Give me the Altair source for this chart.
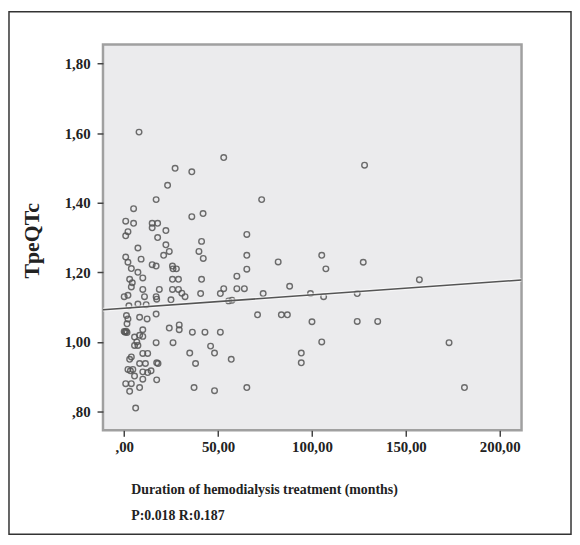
import altair as alt
import pandas as pd

# Duration of hemodialysis treatment (months)
months = [
    7.9, 5.0, 0.8, 5.0, 14.9, 17.8, 14.9, 2.0, 0.8, 22.2,
    17.8, 17.0, 23.1, 27.1, 22.2, 24.0, 21.0, 7.3, 9.0, 0.8,
    2.0, 3.8, 7.3, 9.9, 2.9, 4.3, 3.8, 14.9, 17.0, 25.7,
    27.8, 26.0, 25.7, 28.9, 9.9, 18.7, 25.7, 28.9, 30.7, 32.4,
    0.0, 2.0, 10.8, 17.0, 17.3, 24.9, 2.5, 7.3, 11.7, 1.2,
    2.0, 8.2, 12.2, 17.0, 0.0, 0.5, 1.0, 1.5, 9.9, 24.0,
    29.3, 29.3, 36.3, 43.0, 51.2, 5.5, 8.2, 9.9, 5.5, 7.3,
    6.7, 17.0, 26.0, 9.9, 12.5, 34.9, 38.0, 3.8, 2.9, 8.2,
    11.3, 17.3, 18.0, 2.0, 3.3, 4.6, 9.9, 12.5, 14.3, 5.5,
    9.9, 17.3, 0.8, 3.8, 8.2, 2.9, 37.2, 6.1, 36.0, 36.0,
    42.0, 53.0, 73.2, 65.3, 41.2, 42.1, 39.8, 65.3, 82.0, 105.2,
    107.4, 65.3, 60.0, 41.2, 53.0, 60.0, 64.0, 88.1, 40.7, 51.2,
    74.0, 99.2, 106.2, 55.6, 57.4, 71.0, 83.7, 86.9, 100.0, 105.2,
    46.0, 48.1, 57.0, 94.3, 94.3, 48.1, 65.3, 127.3, 157.2, 124.1,
    124.1, 135.0, 173.0, 181.2, 128.0, 1.5,
]
# TpeQTc
tpeqtc = [
    1.603, 1.383, 1.347, 1.341, 1.341, 1.341, 1.328, 1.317, 1.305, 1.320,
    1.300, 1.409, 1.450, 1.499, 1.279, 1.260, 1.249, 1.270, 1.238, 1.244,
    1.229, 1.211, 1.200, 1.184, 1.180, 1.170, 1.158, 1.222, 1.218, 1.218,
    1.210, 1.210, 1.180, 1.180, 1.151, 1.151, 1.151, 1.151, 1.140, 1.130,
    1.130, 1.134, 1.130, 1.130, 1.123, 1.121, 1.104, 1.109, 1.107, 1.076,
    1.066, 1.071, 1.066, 1.080, 1.030, 1.028, 1.031, 1.027, 1.035, 1.040,
    1.049, 1.035, 1.028, 1.028, 1.028, 1.014, 1.019, 1.016, 0.990, 0.990,
    1.000, 0.998, 0.998, 0.967, 0.967, 0.968, 0.938, 0.957, 0.950, 0.938,
    0.938, 0.940, 0.938, 0.921, 0.917, 0.921, 0.914, 0.912, 0.917, 0.902,
    0.893, 0.891, 0.880, 0.880, 0.869, 0.858, 0.869, 0.810, 1.489, 1.360,
    1.369, 1.530, 1.409, 1.309, 1.289, 1.240, 1.260, 1.249, 1.230, 1.249,
    1.210, 1.209, 1.189, 1.180, 1.153, 1.153, 1.153, 1.160, 1.139, 1.139,
    1.139, 1.139, 1.130, 1.118, 1.120, 1.078, 1.078, 1.078, 1.058, 1.000,
    0.988, 0.968, 0.950, 0.968, 0.940, 0.860, 0.869, 1.229, 1.179, 1.139,
    1.059, 1.059, 0.998, 0.869, 1.508, 1.052,
]

# fitted line, end points
fit_months = [-11.3, 211.6]
fit_tpeqtc = [1.0926, 1.178]

x_ticks = [0, 50, 100, 150, 200]
x_tick_labels = [",00", "50,00", "100,00", "150,00", "200,00"]
y_ticks = [0.8, 1.0, 1.2, 1.4, 1.6, 1.8]
y_tick_labels = [",80", "1,00", "1,20", "1,40", "1,60", "1,80"]

x_domain = [-11.3, 211.6]
y_domain = [0.746, 1.855]

x_title = ["Duration of hemodialysis treatment (months)", "P:0.018 R:0.187"]
y_title = "TpeQTc"


def label_expr(values, labels):
    expr = "''"
    for v, lab in reversed(list(zip(values, labels))):
        expr = f"abs(datum.value - {v}) < 1e-6 ? '{lab}' : ({expr})"
    return expr


df = pd.DataFrame({"months": months, "tpeqtc": tpeqtc})
fit_df = pd.DataFrame({"months": fit_months, "tpeqtc": fit_tpeqtc})
frame_df = pd.DataFrame({"k": [0]})

FONT = "Liberation Serif"

x_scale = alt.Scale(domain=x_domain, nice=False, zero=False)
y_scale = alt.Scale(domain=y_domain, nice=False, zero=False)

x_axis = alt.Axis(
    values=x_ticks,
    labelExpr=label_expr(x_ticks, x_tick_labels),
    grid=False,
    domain=False,
    ticks=True,
    tickSize=6,
    tickWidth=1.5,
    tickColor="#444444",
    labelFont=FONT,
    labelFontWeight="bold",
    labelFontSize=15,
    labelColor="#222222",
    labelPadding=3,
    labelFlush=False,
    title=x_title,
    titleFont=FONT,
    titleFontWeight="bold",
    titleFontSize=14,
    titleColor="#222222",
    titleAlign="left",
    titleBaseline="alphabetic",
    titleLineHeight=26,
    titleX=28,
    titleY=64,
)

y_axis = alt.Axis(
    values=y_ticks,
    labelExpr=label_expr(y_ticks, y_tick_labels),
    grid=False,
    domain=False,
    ticks=True,
    tickSize=6,
    tickWidth=1.5,
    tickColor="#444444",
    labelFont=FONT,
    labelFontWeight="bold",
    labelFontSize=15,
    labelColor="#222222",
    labelPadding=7,
    labelFlush=False,
    title=y_title,
    titleFont=FONT,
    titleFontWeight="bold",
    titleFontSize=22,
    titleColor="#222222",
    titleAlign="center",
    titleBaseline="middle",
    titleAngle=270,
    titleX=-72,
    titleY=198,
)

points = alt.Chart(df).mark_point(
    shape="circle", filled=False, size=32, strokeWidth=1.4,
    color="#555555", opacity=0.85,
).encode(
    x=alt.X("months:Q", scale=x_scale, axis=x_axis),
    y=alt.Y("tpeqtc:Q", scale=y_scale, axis=y_axis),
)

halo = alt.Chart(fit_df).mark_line(
    color="#ffffff", strokeWidth=4, opacity=0.55, clip=True
).encode(
    x=alt.X("months:Q", scale=x_scale),
    y=alt.Y("tpeqtc:Q", scale=y_scale),
)

fit_line = alt.Chart(fit_df).mark_line(
    color="#555555", strokeWidth=1.6, clip=True
).encode(
    x=alt.X("months:Q", scale=x_scale),
    y=alt.Y("tpeqtc:Q", scale=y_scale),
)

frame = alt.Chart(frame_df).mark_rect(
    fillOpacity=0, stroke="#333333", strokeWidth=1.5
).encode(
    x=alt.value(-95),
    x2=alt.value(473),
    y=alt.value(-33),
    y2=alt.value(495),
)

chart = alt.layer(frame, points, halo, fit_line).properties(
    width=423,
    height=390,
    padding=0,
    background="#ffffff",
).configure_view(
    fill="#ebebed",
    stroke="#a0a0a0",
    strokeWidth=2.5,
)

chart.save("out.html", embed_options={"renderer": "svg", "actions": False})
